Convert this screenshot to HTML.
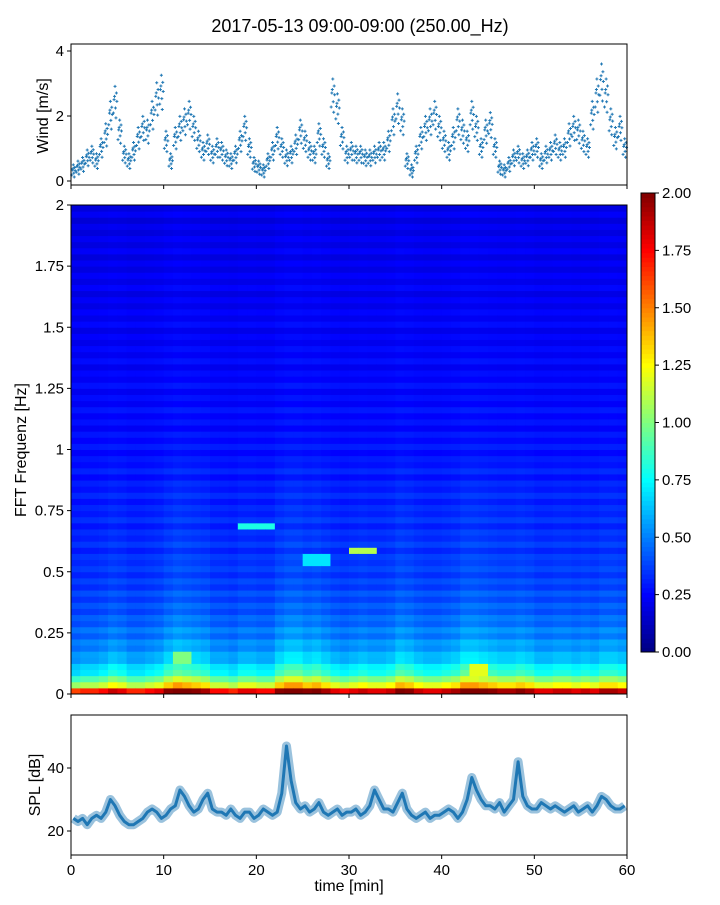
<!DOCTYPE html>
<html><head><meta charset="utf-8"><style>
html,body{margin:0;padding:0;background:#fff;}
svg text{font-family:"Liberation Sans",sans-serif;fill:#000;}
</style></head><body>
<svg id="fig" width="720" height="900" viewBox="0 0 720 900" xmlns="http://www.w3.org/2000/svg">
<text x="360" y="32" font-size="18" text-anchor="middle">2017-05-13 09:00-09:00 (250.00_Hz)</text>
<g id="wind"></g>
<g id="spec"></g>
<g id="cbar"></g>
<g id="spl"></g>
</svg>
<script>
const windValues=[0.3,0.4,0.5,0.7,0.8,0.6,1.0,1.4,2.0,2.4,1.5,0.8,0.6,0.9,1.3,1.6,1.5,2.0,2.5,2.7,1.2,0.6,1.3,1.6,1.8,2.0,1.6,1.2,0.9,1.1,0.8,1.0,0.9,0.7,0.6,0.8,1.2,1.6,1.0,0.5,0.4,0.3,0.6,0.9,1.3,1.0,0.7,0.8,1.1,1.5,1.2,0.9,0.8,1.4,1.0,0.6,2.6,2.2,1.3,0.8,0.9,0.8,0.8,0.7,0.7,0.8,0.9,0.9,1.2,1.8,2.2,1.8,0.6,0.3,0.8,1.3,1.6,1.8,2.0,1.6,1.2,0.9,1.3,1.8,1.5,1.2,2.0,1.6,1.0,1.5,1.7,1.0,0.4,0.3,0.5,0.7,0.8,0.6,0.7,0.9,1.0,0.6,0.8,0.9,1.1,0.9,1.0,1.4,1.6,1.5,1.2,1.0,2.0,2.6,3.0,2.6,1.8,1.3,1.6,1.0];
const splValues=[24,23,24,22,24,25,24,26,30,28,25,23,22,22,23,24,26,27,26,24,25,27,28,33,31,28,26,27,30,32,27,26,26,25,27,25,24,26,26,24,25,27,26,25,26,32,47,36,29,27,28,26,27,29,26,25,26,27,25,26,26,27,25,26,28,33,30,27,27,26,29,32,27,25,24,25,26,24,25,25,26,27,26,24,26,30,37,33,30,28,28,27,29,26,28,30,42,31,28,27,27,29,28,27,28,27,26,27,28,26,27,28,26,28,31,30,28,27,27,28];
const specRowBase=[1.5,0.95,0.78,0.6,0.58,0.48,0.5,0.42,0.46,0.38,0.44,0.36,0.4,0.33,0.38,0.32,0.37,0.3,0.35,0.29,0.34,0.3,0.33,0.27,0.33,0.28,0.31,0.26,0.32,0.27,0.3,0.25,0.31,0.26,0.29,0.24,0.3,0.25,0.28,0.23,0.29,0.24,0.28,0.22,0.27,0.23,0.28,0.22,0.26,0.21,0.27,0.22,0.25,0.2,0.26,0.21,0.25,0.2,0.24,0.19,0.25,0.2,0.24,0.19,0.23,0.18,0.24,0.19,0.23,0.18,0.22,0.17,0.23,0.18,0.22,0.17,0.21,0.16,0.22,0.17];
const specRowGain=[0.6,0.5,0.4,0.35,0.3,0.25,0.22,0.2,0.18,0.16,0.15,0.14,0.13,0.12,0.11,0.1,0.1,0.1,0.09,0.09,0.09,0.09,0.08,0.08,0.08,0.08,0.08,0.07,0.07,0.07,0.07,0.07,0.06,0.06,0.06,0.05,0.05,0.05,0.04,0.04];
const specColAct=[0.2,0.3,0.3,0.4,0.6,0.5,0.3,0.3,0.4,0.5,0.8,1.0,0.9,0.8,0.7,0.4,0.4,0.3,0.5,0.5,0.4,0.4,0.8,1.0,1.0,0.8,0.9,0.7,0.5,0.4,0.5,0.6,0.5,0.5,0.6,0.9,0.8,0.6,0.5,0.5,0.6,0.7,1.0,1.0,0.9,0.8,0.7,0.7,0.8,0.7,0.5,0.5,0.6,0.6,0.5,0.6,0.5,0.7,0.7,0.6];
const specFeatures=[[18,22,0.69,0.8],[30,33,0.58,1.1],[25,28,0.55,0.7],[11,13,0.15,1.0],[43,45,0.1,1.2]];
const xTicks=[0,10,20,30,40,50,60];
const windTicks=[0,2,4];
const specTicks=[0,0.25,0.5,0.75,1,1.25,1.5,1.75,2];
const splTicks=[20,40];
const cbarTicks=[0,0.25,0.5,0.75,1,1.25,1.5,1.75,2];

const NS="http://www.w3.org/2000/svg";
function mk(p,t,a){const e=document.createElementNS(NS,t);for(const k in a)e.setAttribute(k,a[k]);p.appendChild(e);return e;}
const X0=71,X1=627;
const xs=t=>X0+(t/60)*(X1-X0);
const wy=v=>181-v*32.5;
const fy=f=>694-f*244.5;
const sy=v=>831-(v-20)*3.15;
const cy=v=>652-v*229.5;
function jet(v){const t=Math.max(0,Math.min(1,v/2));const c=x=>Math.round(255*Math.max(0,Math.min(1,1.5-Math.abs(4*t-x))));return `rgb(${c(3)},${c(2)},${c(1)})`;}
function frame(g,y0,y1){const r=mk(g,'rect',{x:X0,y:y0,width:X1-X0,height:y1-y0,fill:'none',stroke:'#000','stroke-width':1});}
function yTicks(g,arr,fn,fmt){arr.forEach(v=>{const y=fn(v);mk(g,'line',{x1:X0-4,x2:X0,y1:y,y2:y,stroke:'#000'});const t=mk(g,'text',{x:X0-7,y:y+5,'font-size':15,'text-anchor':'end'});t.textContent=fmt(v);});}
function xTickMarks(g,yb,labels){xTicks.forEach(v=>{mk(g,'line',{x1:xs(v),x2:xs(v),y1:yb,y2:yb+4,stroke:'#000'});if(labels){const t=mk(g,'text',{x:xs(v),y:yb+20,'font-size':15,'text-anchor':'middle'});t.textContent=v;}});}
function ylab(g,txt,x,y){const t=mk(g,'text',{x:x,y:y,'font-size':16,'text-anchor':'middle',transform:`rotate(-90 ${x} ${y})`});t.textContent=txt;}

// wind
const wg=document.getElementById('wind');
const offs=[[-0.2,0.1],[0.1,-0.15],[0.3,0.3],[-0.35,-0.3],[0.0,0.5],[0.2,-0.45],[-0.1,0.2],[0.4,0.05]];
windValues.forEach((v,i)=>{offs.forEach(o=>{const t=i*0.5+0.25+o[0]*0.5;const val=Math.max(0.05,v+o[1]*(0.3+v*0.3));const x=xs(t),y=wy(val);
const p=mk(wg,'path',{d:`M${x-1.5} ${y}h3M${x} ${y-1.5}v3`,stroke:'#1f77b4','stroke-width':1});});});
frame(wg,44,185);yTicks(wg,windTicks,wy,v=>v);xTickMarks(wg,185,false);ylab(wg,'Wind [m/s]',48,116);

// spectrogram
const sg=document.getElementById('spec');
const df=2/specRowBase.length;
specColAct.forEach((a,c)=>{specRowBase.forEach((b,r)=>{let v=b+a*(r<specRowGain.length?specRowGain[r]:0.03);
specFeatures.forEach(f=>{if(c>=f[0]&&c<f[1]&&Math.abs(r*df+df/2-f[2])<df*0.6)v=Math.max(v,f[3]);});
const y=fy((r+1)*df);const cell=mk(sg,'rect',{x:xs(c),y:y,width:xs(c+1)-xs(c)+0.5,height:fy(r*df)-y+0.5,fill:jet(v)});
});});
frame(sg,205,694);yTicks(sg,specTicks,fy,v=>String(v));xTickMarks(sg,694,false);ylab(sg,'FFT Frequenz [Hz]',26,450);

// colorbar
const cg=document.getElementById('cbar');
for(let i=0;i<100;i++){const v0=i*0.02;mk(cg,'rect',{x:641,y:cy(v0+0.02),width:14,height:cy(v0)-cy(v0+0.02)+0.5,fill:jet(v0+0.01)});}
mk(cg,'rect',{x:641,y:193,width:14,height:459,fill:'none',stroke:'#000'});
cbarTicks.forEach(v=>{mk(cg,'line',{x1:655,x2:659,y1:cy(v),y2:cy(v),stroke:'#000'});const t=mk(cg,'text',{x:662,y:cy(v)+5,'font-size':15});t.textContent=v.toFixed(2);});

// SPL
const pg=document.getElementById('spl');
const pts=splValues.map((v,i)=>`${xs(i*0.5+0.25).toFixed(1)},${sy(v).toFixed(1)}`).join(' ');
const band=mk(pg,'polyline',{points:pts,fill:'none',stroke:'#1f77b4','stroke-width':9,'stroke-opacity':0.45,'stroke-linejoin':'round'});

const line=mk(pg,'polyline',{points:pts,fill:'none',stroke:'#1f77b4','stroke-width':3,'stroke-linejoin':'round'});

frame(pg,715,855);yTicks(pg,splTicks,sy,v=>v);xTickMarks(pg,855,true);ylab(pg,'SPL [dB]',40,785);
const xl=mk(pg,'text',{x:349,y:891,'font-size':16,'text-anchor':'middle'});xl.textContent='time [min]';


</script>
</body></html>
